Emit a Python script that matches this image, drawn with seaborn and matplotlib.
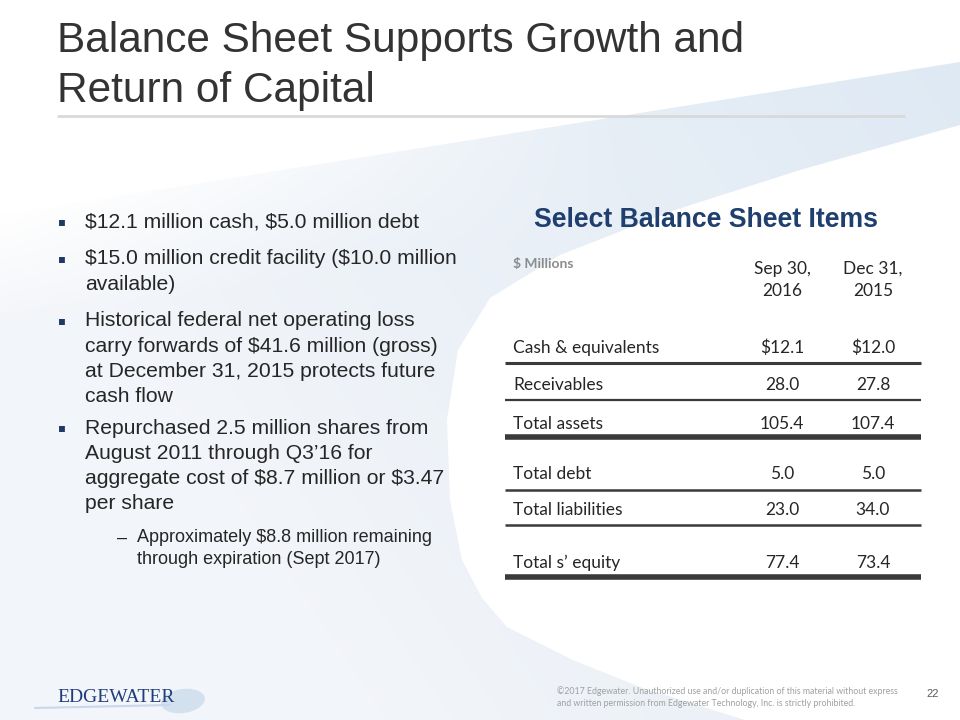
import numpy as np
import matplotlib
matplotlib.use("Agg")
import matplotlib.pyplot as plt
from matplotlib.patches import Polygon, Ellipse
import seaborn as sns

# ---------------- data ----------------
title_lines = ["Balance Sheet Supports Growth and", "Return of Capital"]
bullets = [
    ["$12.1 million cash, $5.0 million debt"],
    ["$15.0 million credit facility ($10.0 million", "available)"],
    ["Historical federal net operating loss", "carry forwards of $41.6 million (gross)",
     "at December 31, 2015 protects future", "cash flow"],
    ["Repurchased 2.5 million shares from", "August 2011 through Q3\u201916 for",
     "aggregate cost of $8.7 million or $3.47", "per share"],
]
sub_bullet = ["Approximately $8.8 million remaining", "through expiration (Sept 2017)"]

table_title = "Select Balance Sheet Items"
unit_label = "$ Millions"
col_headers = ["Sep 30,\n2016", "Dec 31,\n2015"]
row_labels = ["Cash & equivalents", "Receivables", "Total assets",
              "Total debt", "Total liabilities", "Total s\u2019 equity"]
sep30_2016 = [12.1, 28.0, 105.4, 5.0, 23.0, 77.4]
dec31_2015 = [12.0, 27.8, 107.4, 5.0, 34.0, 73.4]

footer_logo = "EDGEWATER"
footer_note = ("\u00a92017 Edgewater. Unauthorized use and/or duplication of this material without express\n"
               "and written permission from Edgewater Technology, Inc. is strictly prohibited.")
page_no = "22"

# ---------------- style ----------------
sns.set_theme(style="white")
plt.rcParams["font.family"] = ["Liberation Sans", "DejaVu Sans"]
plt.rcParams["text.parse_math"] = False

fig = plt.figure(figsize=(9.6, 7.2), dpi=100)
ax = fig.add_axes([0, 0, 1, 1])
ax.set_xlim(0, 960)
ax.set_ylim(720, 0)
ax.axis("off")

# background swoosh (decorative)
shape = [(0, 215), (960, 62), (960, 125), (800, 170), (675, 210), (560, 255),
         (490, 298), (458, 350), (447, 420), (450, 500), (462, 560), (482, 598),
         (507, 627), (573, 660), (640, 687), (745, 720), (0, 720)]
patch = Polygon(shape, closed=True, facecolor="none", edgecolor="none",
                transform=ax.transData)
ax.add_patch(patch)
yy, xx = np.mgrid[0:720, 0:960]
t = np.clip(0.8 * (xx / 960) + 0.4 * (1 - yy / 720) - 0.3, 0, 1)
c0 = np.array([0.952, 0.962, 0.978])
c1 = np.array([0.862, 0.908, 0.952])
img = c0[None, None, :] * (1 - t[..., None]) + c1[None, None, :] * t[..., None]
# soften the upper edge on the left side
yb = 215 - 153 * xx / 960
d = np.clip((yy - yb) / 110, 0, 1)
w = np.clip(1 - xx / 620, 0, 1)
f = 1 - w * (1 - d)
img = 1 - (1 - img) * f[..., None]
im = ax.imshow(img, extent=(0, 960, 720, 0), zorder=0, aspect="auto")
im.set_clip_path(patch)

# title
title_color = "#333333"
for i, line in enumerate(title_lines):
    ax.text(57, 52 + i * 50, line, fontsize=30.5, color=title_color,
            va="baseline", ha="left")
ax.plot([57, 905], [116, 116], color="#d9d9d9", lw=2, solid_capstyle="butt")

# bullets
bullet_top = [222, 259, 321, 428]
line_gap = 25.3
bullet_color = "#1f3864"
for y0, lines in zip(bullet_top, bullets):
    ax.text(62, y0, "\u25aa", fontsize=8.5, color=bullet_color, va="center", ha="center",
            family=["DejaVu Sans"])
    for j, ln in enumerate(lines):
        ax.text(85, y0 + j * line_gap, ln, fontsize=15.2, color="#262626",
                va="center", ha="left")
sub_top = 538
ax.text(117, sub_top, "\u2013", fontsize=13, color="#262626", va="center", ha="left")
for j, ln in enumerate(sub_bullet):
    ax.text(137, sub_top + j * 21, ln, fontsize=13, color="#262626", va="center", ha="left")

# table
ax.text(706, 220, table_title, fontsize=19.2, fontweight="bold", color="#1f3f6e",
        ha="center", va="center")
tf = ["Lato", "DejaVu Sans"]
ax.text(513, 264, unit_label, fontsize=10, fontweight="bold", color="#8c8c8c",
        ha="left", va="center", family=tf)
col_x = [782, 873]
for cx, h in zip(col_x, col_headers):
    ax.text(cx, 280, h, fontsize=12.5, color="#262626", ha="center", va="center",
            family=tf, linespacing=1.45)

row_y = [348, 385, 424, 474, 510, 563]
rule_y = [363, 400, 437, 490, 525, 577]
rule_w = [2.2, 1.6, 4.0, 1.8, 1.8, 4.0]
for i, (lab, a, b) in enumerate(zip(row_labels, sep30_2016, dec31_2015)):
    pre = "$" if i == 0 else ""
    ax.text(513, row_y[i], lab, fontsize=12.5, color="#262626", ha="left", va="center",
            family=tf)
    ax.text(col_x[0], row_y[i], f"{pre}{a:.1f}", fontsize=12.5, color="#262626",
            ha="center", va="center", family=tf)
    ax.text(col_x[1], row_y[i], f"{pre}{b:.1f}", fontsize=12.5, color="#262626",
            ha="center", va="center", family=tf)
    ax.plot([505, 921], [rule_y[i], rule_y[i]], color="#3a3a3a", lw=rule_w[i],
            solid_capstyle="butt")

# footer
ax.add_patch(Ellipse((183, 701), 44, 24, angle=-8, facecolor="#d3e0ee",
                     edgecolor="none", zorder=1))
ax.plot([35, 170], [708, 705], color="#c9d8ea", lw=1.5, zorder=1)
ax.text(57, 697, footer_logo, fontsize=14, color="#1f3d7a", ha="left", va="center",
        family=["Liberation Serif"], zorder=2)
ax.text(557, 697, footer_note, fontsize=6.35, color="#a0a0a0", ha="left", va="center",
        linespacing=1.55, family=tf)
ax.text(933, 694, page_no, fontsize=8, color="#595959", ha="center", va="center")

fig.savefig("out.png", dpi=100)
